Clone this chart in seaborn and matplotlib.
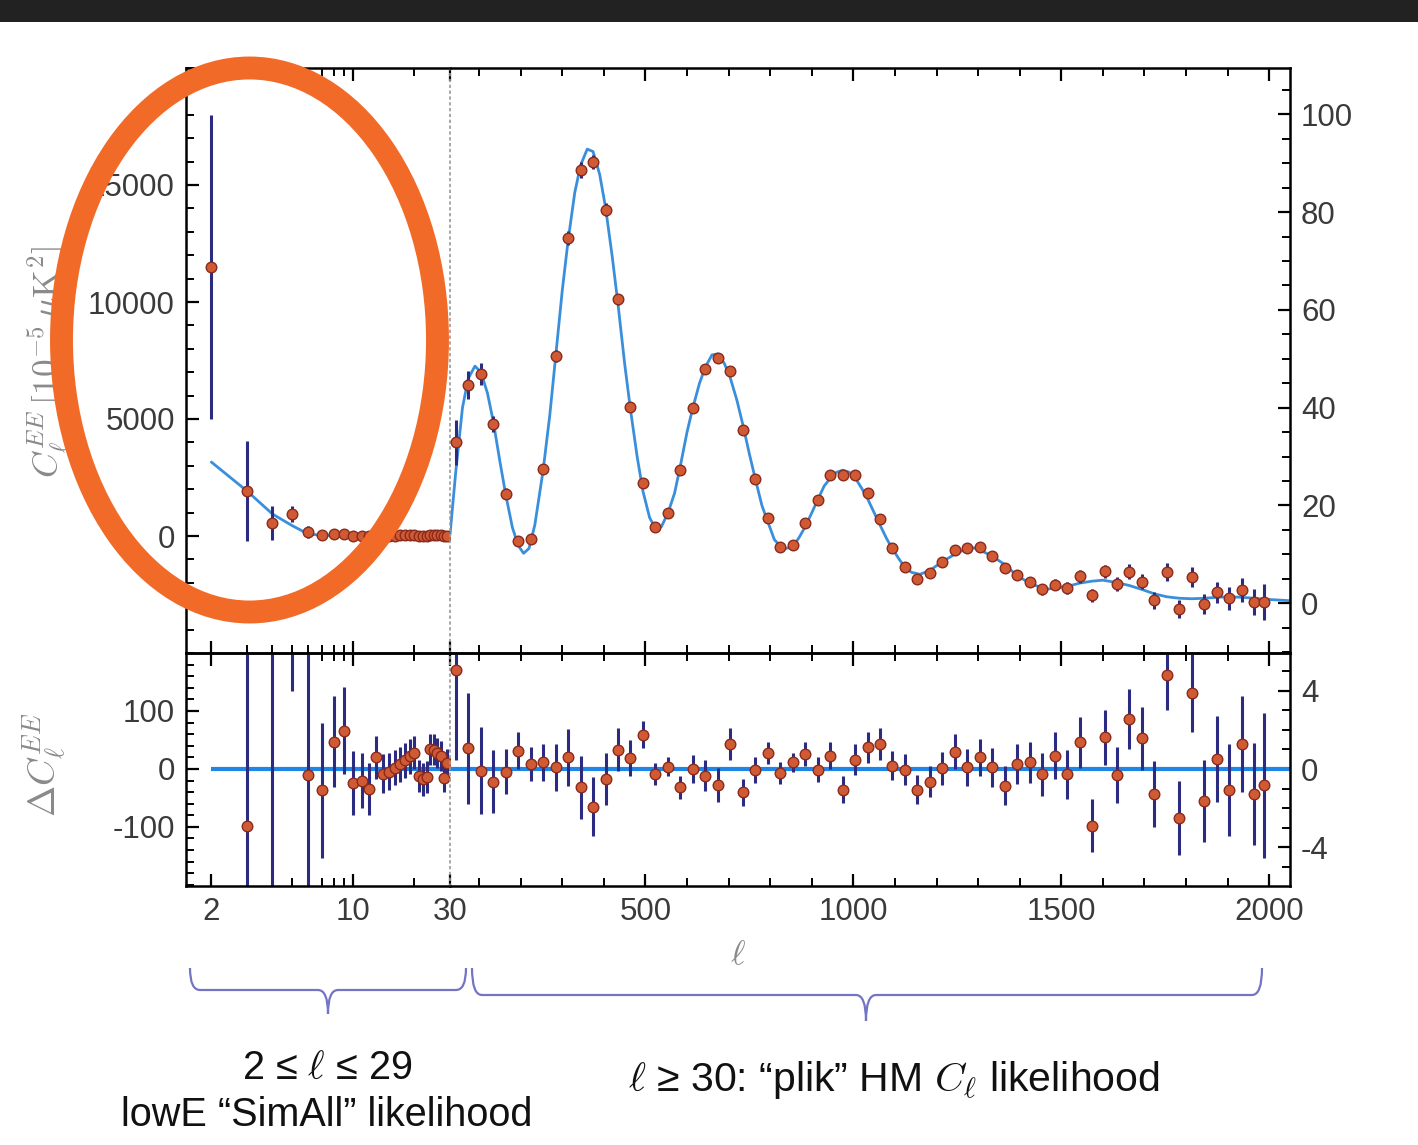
import numpy as np
import matplotlib
matplotlib.use("Agg")
import matplotlib.pyplot as plt
import seaborn as sns
from matplotlib.patches import Ellipse, Rectangle, PathPatch
from matplotlib.path import Path
from matplotlib.ticker import MultipleLocator, FixedLocator, NullFormatter, LogLocator

# ---- low-ell data (2 <= ell <= 29), C_ell in 1e-5 uK^2 ----
ell_low = [2, 3, 4, 5, 6, 7, 8, 9, 10, 11, 12, 13, 14, 15, 16, 17, 18, 19, 20,
           21, 22, 23, 24, 25, 26, 27, 28, 29]
cl_low = [11500, 1920, 555, 940, 170, 40, 90, 100, 10, 20, 5, 35, 15, 15, 20, 25,
          30, 35, 40, 5, 8, 10, 45, 45, 40, 35, 5, 20]
err_low = [6500, 2130, 740, 360, 260, 116, 78, 75, 55, 47, 45, 37, 33, 32, 30, 30,
           30, 30, 28, 28, 28, 28, 27, 27, 26, 26, 25, 25]
res_low = [8400, -98, -385, 495, -11, -37, 47, 66, -24, -20, -34, 20, -8, -5, 2, 8,
           15, 22, 28, -12, -18, -14, 34, 33, 28, 22, -15, 10]
model_ell_low = [2, 3, 4, 5, 6, 7, 8, 10, 15, 20, 30]
model_cl_low = [3160, 1920, 940, 445, 85, 30, 20, 15, 10, 8, 5]

# ---- high-ell data (ell >= 30), D_ell in uK^2 ----
ell_high = [44, 74, 104, 134, 164, 194, 224, 254, 284, 314, 344, 374, 404, 434, 464,
            494, 524, 554, 584, 614, 644, 674, 704, 734, 764, 794, 824, 854, 884, 914,
            944, 974, 1004, 1034, 1064, 1094, 1124, 1154, 1184, 1214, 1244, 1274, 1304,
            1334, 1364, 1394, 1424, 1454, 1484, 1514, 1544, 1574, 1604, 1634, 1664,
            1694, 1724, 1754, 1784, 1814, 1844, 1874, 1904, 1934, 1964, 1988]
dl_high = [32.9, 44.7, 46.9, 36.7, 22.4, 12.8, 13.2, 27.5, 50.6, 74.7, 88.6, 90.3,
           80.5, 62.2, 40.2, 24.6, 15.6, 18.5, 27.2, 40.0, 48.0, 50.2, 47.4, 35.4,
           25.4, 17.5, 11.5, 11.8, 16.4, 21.1, 26.2, 26.2, 26.2, 22.5, 17.3, 11.3,
           7.3, 5.0, 6.1, 8.5, 10.9, 11.3, 11.5, 9.7, 7.1, 5.7, 4.4, 2.8, 3.8, 3.1,
           5.5, 1.6, 6.5, 3.9, 6.4, 4.4, 0.6, 6.4, -1.2, 5.4, -0.2, 2.2, 1.0, 2.6,
           0.2, 0.2]
err_high = [4.6, 2.85, 2.2, 1.6, 1.15, 0.95, 0.85, 0.95, 1.2, 1.45, 1.6, 1.5, 1.35,
            1.1, 0.9, 0.7, 0.55, 0.5, 0.6, 0.7, 0.8, 0.85, 0.8, 0.7, 0.65, 0.55, 0.55,
            0.5, 0.6, 0.65, 0.7, 0.7, 0.8, 0.8, 0.8, 0.75, 0.8, 0.75, 0.8, 0.85, 0.9,
            0.95, 0.95, 1.0, 1.0, 1.0, 1.05, 1.1, 1.2, 1.25, 1.3, 1.35, 1.4, 1.45,
            1.55, 1.6, 1.7, 1.8, 1.9, 2.0, 2.1, 2.2, 2.35, 2.45, 2.6, 3.7]
res_high = [5.07, 1.05, -0.08, -0.65, -0.14, 0.94, 0.26, 0.34, 0.09, 0.6, -0.94,
            -1.92, -0.51, 0.99, 0.56, 1.75, -0.26, 0.12, -0.94, 0.0, -0.34, -0.82,
            1.28, -1.19, -0.05, 0.82, -0.2, 0.34, 0.77, -0.03, 0.68, -1.05, 0.48, 1.1,
            1.28, 0.17, -0.03, -1.05, -0.65, 0.03, 0.88, 0.09, 0.6, 0.09, -0.85, 0.26,
            0.34, -0.26, 0.68, -0.26, 1.36, -2.89, 1.62, -0.31, 2.55, 1.57, -1.28,
            4.8, -2.5, 3.88, -1.65, 0.51, -1.05, 1.28, -1.28, -0.82]
model_ell_high = [30, 44, 60, 74, 90, 104, 120, 134, 150, 164, 180, 194, 207, 220,
                  234, 254, 270, 284, 300, 314, 330, 344, 360, 374, 390, 404, 420,
                  434, 450, 464, 480, 494, 510, 524, 538, 554, 570, 584, 600, 614,
                  630, 644, 660, 674, 690, 704, 720, 734, 750, 764, 780, 794, 810,
                  824, 838, 854, 870, 884, 900, 914, 930, 944, 960, 974, 990, 1004,
                  1020, 1034, 1050, 1064, 1080, 1094, 1110, 1124, 1140, 1160, 1184,
                  1214, 1244, 1274, 1290, 1304, 1334, 1364, 1394, 1424, 1454, 1470,
                  1484, 1514, 1544, 1574, 1600, 1634, 1664, 1694, 1724, 1754, 1784,
                  1814, 1844, 1874, 1904, 1934, 1964, 1990, 2050]
model_dl_high = [14.0, 27.0, 40.0, 46.0, 48.5, 47.3, 43.0, 37.2, 29.0, 22.2, 15.5,
                 11.8, 10.2, 11.2, 16.0, 27.2, 38.5, 50.4, 64.0, 74.2, 84.0, 89.6,
                 92.9, 92.4, 87.7, 81.0, 71.0, 61.2, 49.0, 39.6, 30.0, 22.9, 17.5,
                 15.3, 15.6, 18.4, 22.5, 28.1, 35.0, 40.0, 45.0, 48.3, 50.8, 51.0,
                 49.0, 46.1, 41.5, 36.6, 30.5, 25.5, 20.0, 16.7, 13.0, 11.7, 11.2,
                 11.5, 13.5, 15.6, 18.5, 21.1, 24.0, 25.5, 26.8, 27.2, 26.8, 25.7,
                 23.5, 21.4, 18.5, 16.0, 13.2, 11.1, 9.0, 7.3, 6.3, 5.9, 6.7, 8.5,
                 10.0, 11.2, 11.3, 10.9, 9.6, 7.9, 5.6, 4.1, 3.1, 2.9, 3.1, 3.4, 4.1,
                 4.5, 4.7, 4.2, 3.6, 2.8, 1.9, 1.3, 1.0, 0.9, 1.0, 1.2, 1.3, 1.2, 1.0,
                 0.8, 0.5]

NAVY = "#2b2b82"
PT_FACE = "#cf5a34"
PT_EDGE = "#8a2a1c"
MODEL = "#3a8fdc"
ZERO = "#1f86e8"
TICKC = "#3a3a3a"
LABC = "#8a8a8a"

sns.set_theme(style="ticks")
plt.rcParams["font.family"] = ["Liberation Sans", "DejaVu Sans"]
plt.rcParams["mathtext.fontset"] = "cm"
plt.rcParams["axes.unicode_minus"] = False

W, H = 1418, 1145
fig = plt.figure(figsize=(W / 100, H / 100), dpi=100)
fig.patch.set_facecolor("white")


def fx(px):
    return px / W


def fy(py):
    return 1 - py / H


xl, xs, xr = 186, 450, 1290
yt, ym, yb = 68, 653, 886

ax_tl = fig.add_axes([fx(xl), fy(ym), fx(xs) - fx(xl), fy(yt) - fy(ym)])
ax_tr = fig.add_axes([fx(xs), fy(ym), fx(xr) - fx(xs), fy(yt) - fy(ym)])
ax_bl = fig.add_axes([fx(xl), fy(yb), fx(xs) - fx(xl), fy(ym) - fy(yb)])
ax_br = fig.add_axes([fx(xs), fy(yb), fx(xr) - fx(xs), fy(ym) - fy(yb)])


def draw_points(ax, x, y, err, ms=58):
    ax.errorbar(x, y, yerr=err, fmt="none", ecolor=NAVY, elinewidth=2.2,
                capsize=0, zorder=2)
    sns.scatterplot(x=x, y=y, ax=ax, color=PT_FACE, edgecolor=PT_EDGE,
                    linewidth=1.0, s=ms, zorder=3, legend=False)


# top-left: low ell, log x
sns.lineplot(x=model_ell_low, y=model_cl_low, ax=ax_tl, color=MODEL, lw=2,
             sort=False, estimator=None, zorder=1.5)
draw_points(ax_tl, ell_low, cl_low, err_low)

# top-right: high ell
sns.lineplot(x=model_ell_high, y=model_dl_high, ax=ax_tr, color=MODEL, lw=2,
             sort=False, estimator=None, zorder=1.5)
draw_points(ax_tr, ell_high, dl_high, err_high)

# residuals
ax_bl.hlines(0, ell_low[0], 30, color=ZERO, lw=3, zorder=1.5)
draw_points(ax_bl, ell_low, res_low, err_low)
ax_br.axhline(0, color=ZERO, lw=3, zorder=1.5)
draw_points(ax_br, ell_high, res_high, err_high)

for ax in (ax_tl, ax_bl):
    ax.set_xscale("log")
    ax.set_xlim(1.5, 30)
    ax.xaxis.set_major_locator(FixedLocator([2, 10, 30]))
    ax.xaxis.set_minor_locator(LogLocator(base=10, subs=np.arange(1, 10)))
    ax.xaxis.set_minor_formatter(NullFormatter())
    ax.spines["right"].set_visible(False)
for ax in (ax_tr, ax_br):
    ax.set_xlim(30, 2050)
    ax.xaxis.set_major_locator(FixedLocator([500, 1000, 1500, 2000]))
    ax.xaxis.set_minor_locator(MultipleLocator(100))
    ax.spines["left"].set_linestyle((0, (1, 2.5)))
    ax.spines["left"].set_color("#9a9a9a")
    ax.spines["left"].set_linewidth(1.2)

ax_tl.set_ylim(-5000, 20000)
ax_tl.yaxis.set_major_locator(FixedLocator([0, 5000, 10000, 15000]))
ax_tl.yaxis.set_minor_locator(MultipleLocator(1000))
ax_tr.set_ylim(-10.2, 109.5)
ax_tr.yaxis.set_major_locator(FixedLocator([0, 20, 40, 60, 80, 100]))
ax_tr.yaxis.set_minor_locator(MultipleLocator(5))
ax_bl.set_ylim(-202, 200)
ax_bl.yaxis.set_major_locator(FixedLocator([-100, 0, 100]))
ax_bl.yaxis.set_minor_locator(MultipleLocator(20))
ax_br.set_ylim(-5.97, 5.92)
ax_br.yaxis.set_major_locator(FixedLocator([-4, 0, 4]))
ax_br.yaxis.set_minor_locator(MultipleLocator(1))

for ax in (ax_tl, ax_tr, ax_bl, ax_br):
    ax.set_facecolor("none")
    ax.set_xlabel("")
    ax.set_ylabel("")
    for side in ("top", "bottom", "left", "right"):
        if not (ax in (ax_tr, ax_br) and side == "left"):
            ax.spines[side].set_linewidth(1.8)
            ax.spines[side].set_color("black")
    ax.tick_params(which="both", direction="in", top=True, bottom=True,
                   color="black", labelcolor=TICKC, labelsize=22.5, pad=8)
    ax.tick_params(which="major", length=9, width=1.6)
    ax.tick_params(which="minor", length=5.5, width=1.4)

for ax in (ax_tl, ax_bl):
    ax.tick_params(which="both", left=True, right=False, labelleft=True)
for ax in (ax_tr, ax_br):
    ax.tick_params(which="both", left=False, right=True, labelleft=False,
                   labelright=True)
for ax in (ax_tl, ax_tr):
    ax.tick_params(which="both", labelbottom=False)
ax_bl.set_xticklabels(["2", "10", "30"])
ax_br.set_xticklabels(["500", "1000", "1500", "2000"])

# axis labels
fig.text(fx(48), fy(362), r"$C_\ell^{EE}\,[10^{-5}\,\mu{\rm K}^2]$", rotation=90,
         ha="center", va="center", fontsize=25.5, color=LABC)
fig.text(fx(45), fy(765), r"$\Delta C_\ell^{EE}$", rotation=90,
         ha="center", va="center", fontsize=27, color=LABC)
fig.text(fx(738), fy(955), r"$\ell$", ha="center", va="center", fontsize=25,
         color=LABC)

# braces under the axis
BRACE = "#7474c4"


def brace(x0, x1, xm, y_tip, y_bar, y_cusp, r=10):
    pts = [(x0, y_tip), (x0, y_bar), (x0 + r, y_bar),
           (xm - r, y_bar), (xm, y_bar), (xm, y_cusp),
           (xm, y_bar), (xm + r, y_bar),
           (x1 - r, y_bar), (x1, y_bar), (x1, y_tip)]
    codes = [Path.MOVETO, Path.CURVE3, Path.CURVE3,
             Path.LINETO, Path.CURVE3, Path.CURVE3,
             Path.CURVE3, Path.CURVE3,
             Path.LINETO, Path.CURVE3, Path.CURVE3]
    path = Path([(fx(a), fy(b)) for a, b in pts], codes)
    fig.add_artist(PathPatch(path, transform=fig.transFigure, fill=False,
                             edgecolor=BRACE, lw=1.6))


brace(190, 466, 328, 968, 990, 1014)
brace(472, 1262, 866, 968, 995, 1021)

fig.text(fx(327), fy(1068), "2 ≤ $\\ell$ ≤ 29", ha="center", va="center",
         fontsize=28.5, color="#111111")
fig.text(fx(327), fy(1115), "lowE “SimAll” likelihood", ha="center", va="center",
         fontsize=28.5, color="#111111")
fig.text(fx(894), fy(1080), "$\\ell$ ≥ 30: “plik” HM $C_\\ell$ likelihood",
         ha="center", va="center", fontsize=29.5, color="#111111")

# dark band at top and orange highlight ellipse
fig.add_artist(Rectangle((0, fy(22)), 1, 1 - fy(22), transform=fig.transFigure,
                         facecolor="#222222", edgecolor="none"))
fig.add_artist(Ellipse((fx(249.5), fy(340)), fx(376), 544 / H,
                       transform=fig.transFigure, fill=False,
                       edgecolor="#f26a28", lw=16.5, zorder=10))

fig.savefig("out.png", dpi=100)
